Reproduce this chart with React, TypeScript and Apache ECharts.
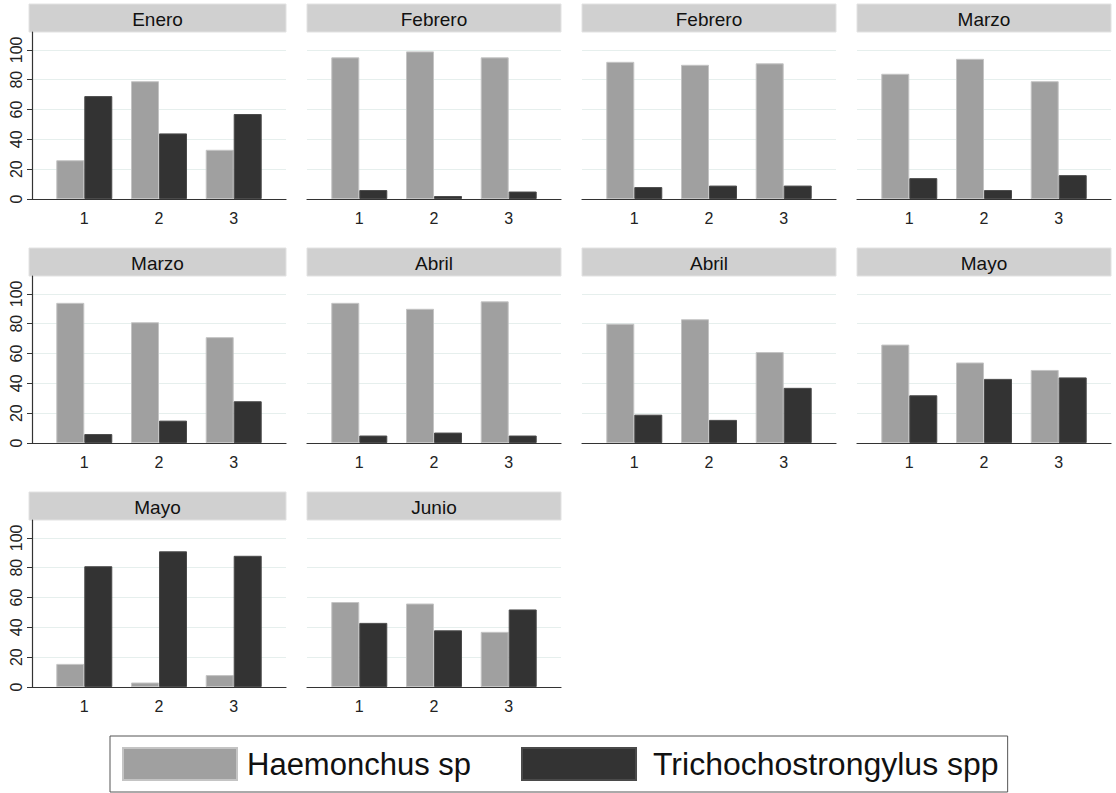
import React, { useEffect, useRef } from "react";
import * as echarts from "echarts";

const panelTitles = ["Enero", "Febrero", "Febrero", "Marzo", "Marzo", "Abril", "Abril", "Mayo", "Mayo", "Junio"];
const categories = [1, 2, 3];
const yTicks = [0, 20, 40, 60, 80, 100];
const seriesNames = ["Haemonchus sp", "Trichochostrongylus spp"];
const haemonchus = [
  [26, 79, 33],
  [95, 99, 95],
  [92, 90, 91],
  [84, 94, 79],
  [94, 81, 71],
  [94, 90, 95],
  [80, 83, 61],
  [66, 54, 49],
  [15.5, 3, 8],
  [57, 56, 37],
];
const tricho = [
  [69, 44, 57],
  [6, 2, 5],
  [8, 9, 9],
  [14, 6, 16],
  [6, 15, 28],
  [5, 7, 5],
  [19, 15.5, 37],
  [32, 43, 44],
  [81, 91, 88],
  [43, 38, 52],
];

const colLeft = [32, 307, 582, 857];
const plotWidth = 254;
const headerTop = [4, 248, 492];
const headerH = 28;
const baseline = [199, 443, 687];
const narrowFont = "'Liberation Sans Narrow', 'Arial Narrow', 'Liberation Sans', Arial, sans-serif";
const sansFont = "'Liberation Sans', Arial, sans-serif";

export default function App() {
  const ref = useRef<HTMLDivElement>(null);
  useEffect(() => {
    if (!ref.current) return;
    const chart = echarts.init(ref.current, undefined, { renderer: "svg" });
    const grids: any[] = [];
    const xAxes: any[] = [];
    const yAxes: any[] = [];
    const series: any[] = [];
    const graphics: any[] = [];
    panelTitles.forEach((title, i) => {
      const r = Math.floor(i / 4);
      const c = i % 4;
      const top = headerTop[r] + headerH;
      grids.push({ left: colLeft[c], top, width: plotWidth, height: baseline[r] - top, containLabel: false });
      xAxes.push({
        type: "value",
        gridIndex: i,
        min: 0.3,
        max: 3.7,
        axisLine: { show: true, lineStyle: { color: "#333", width: 1.2 } },
        axisTick: { show: false },
        splitLine: { show: false },
        axisLabel: {
          customValues: categories,
          margin: 11,
          color: "#222",
          fontSize: 16,
          fontFamily: narrowFont,
          formatter: (v: number) => String(Math.round(v)),
        },
      });
      const left = c === 0;
      yAxes.push({
        type: "value",
        gridIndex: i,
        min: 0,
        max: 112,
        interval: 20,
        axisLine: { show: left, lineStyle: { color: "#333", width: 1.2 } },
        axisTick: { show: left, customValues: yTicks, length: 5, lineStyle: { color: "#333" } },
        splitLine: { show: true, customValues: yTicks, lineStyle: { color: "#e6efed", width: 1 } },
        axisLabel: {
          show: left,
          customValues: yTicks,
          rotate: 90,
          margin: 8,
          color: "#222",
          fontSize: 16,
          fontFamily: narrowFont,
        },
      });
      series.push({
        type: "bar",
        name: seriesNames[0],
        xAxisIndex: i,
        yAxisIndex: i,
        barWidth: 28,
        barGap: "0%",
        itemStyle: { color: "#a0a0a0", borderColor: "#c4c4c4", borderWidth: 1 },
        data: categories.map((cat, k) => [cat, haemonchus[i][k]]),
      });
      series.push({
        type: "bar",
        name: seriesNames[1],
        xAxisIndex: i,
        yAxisIndex: i,
        barWidth: 28,
        barGap: "0%",
        itemStyle: { color: "#333333", borderColor: "#4a4a4a", borderWidth: 1 },
        data: categories.map((cat, k) => [cat, tricho[i][k]]),
      });
      const hx = c === 0 ? colLeft[c] - 3 : colLeft[c];
      const hw = c === 0 ? plotWidth + 3 : plotWidth;
      graphics.push({
        type: "rect",
        shape: { x: hx, y: headerTop[r], width: hw, height: headerH },
        style: { fill: "#d0d0d0", stroke: "#e2e2e2", lineWidth: 1 },
        silent: true,
      });
      graphics.push({
        type: "text",
        x: hx + hw / 2,
        y: headerTop[r] + headerH / 2 + 1,
        style: {
          text: title,
          textAlign: "center",
          textVerticalAlign: "middle",
          fontSize: 19,
          fontFamily: sansFont,
          fill: "#111",
        },
        silent: true,
      });
    });
    chart.setOption({
      animation: false,
      backgroundColor: "#ffffff",
      grid: grids,
      xAxis: xAxes,
      yAxis: yAxes,
      series,
      graphic: graphics,
      legend: {
        data: [
          { name: seriesNames[0], textStyle: { fontSize: 31, padding: [0, 0, 0, 5] } },
          { name: seriesNames[1], textStyle: { fontSize: 32, padding: [0, 0, 0, 12] } },
        ],
        left: 110,
        top: 736,
        orient: "horizontal",
        icon: "rect",
        itemWidth: 114,
        itemHeight: 32,
        itemGap: 50,
        padding: [11, 9, 11, 12],
        borderColor: "#555",
        borderWidth: 1,
        selectedMode: false,
        textStyle: { fontSize: 32, lineHeight: 32, fontFamily: sansFont, color: "#111" },
      },
    });
    return () => chart.dispose();
  }, []);
  return <div ref={ref} style={{ position: "absolute", left: 0, top: 0, width: 1116, height: 793 }} />;
}
